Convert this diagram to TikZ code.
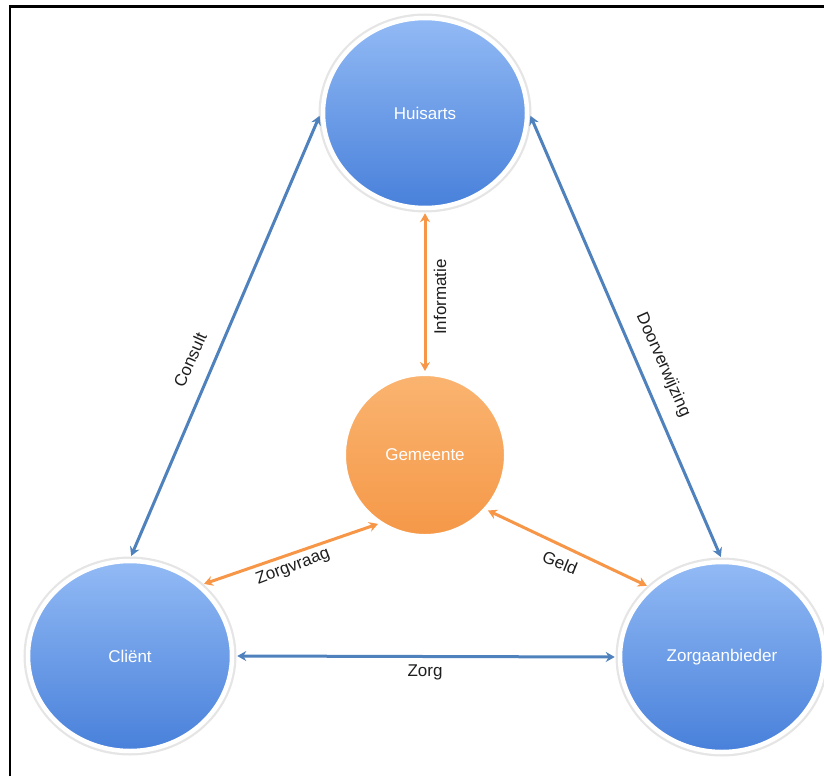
\documentclass[tikz,border=0pt]{standalone}
\usepackage{fontspec}
\setmainfont{Liberation Sans}
\usetikzlibrary{arrows.meta,shapes.geometric}

\definecolor{linkblue}{RGB}{79,129,189}
\definecolor{linkorange}{RGB}{247,150,70}
\definecolor{balltop}{RGB}{146,186,245}
\definecolor{ballbot}{RGB}{72,128,218}
\definecolor{orgtop}{RGB}{250,180,112}
\definecolor{orgbot}{RGB}{245,152,72}
\definecolor{labelink}{RGB}{30,30,30}

\tikzset{
  ball/.style={ellipse, inner sep=0pt, minimum width=204pt, minimum height=190pt,
    top color=balltop, bottom color=ballbot, draw=white, line width=4.5pt,
    preaction={draw=black!10, line width=9pt},
    font=\fontsize{17}{20}\selectfont, text=white},
  hub/.style={ellipse, inner sep=0pt, minimum width=160pt, minimum height=160pt,
    top color=orgtop, bottom color=orgbot, draw=white, line width=2pt,
    font=\fontsize{17}{20}\selectfont, text=white},
  tip/.tip={Stealth[length=9pt,width=10pt,inset=3pt]},
  bluelink/.style={draw=linkblue, line width=3pt, tip-tip,
    shorten <=3pt, shorten >=3pt},
  orangelink/.style={draw=linkorange, line width=3pt, tip-tip,
    shorten <=3pt, shorten >=3pt},
  linklabel/.style={font=\fontsize{17}{20}\selectfont, text=labelink, inner sep=0pt},
}

\begin{document}
\begin{tikzpicture}[x=1pt,y=-1pt]
  \useasboundingbox (0,0) rectangle (824,776);
  % open frame: top and left edges
  \draw[line width=2.5pt] (10,776) -- (10,6.5) -- (824,6.5);

  % the four parties
  \node[ball] (hu) at (425,113) {Huisarts};
  \node[ball] (cl) at (130,656) {Cliënt};
  \node[ball] (za) at (722,657) {Zorgaanbieder};
  \node[hub]  (ge) at (425,455) {Gemeente};

  % relations
  \draw[bluelink] (hu.west) -- (cl.north);
  \draw[bluelink] (hu.east) -- (za.north);
  \draw[bluelink] (cl.east) -- (za.west);
  \draw[orangelink] (hu.south) -- (ge.north);
  \draw[orangelink] (ge.237) -- (cl.45);
  \draw[orangelink] (ge.-42) -- (za.136);

  % relation labels
  \node[linklabel, rotate=66]  (lc) at (190,360) {Consult};
  \node[linklabel, rotate=-66] (ld) at (663,365) {Doorverwijzing};
  \node[linklabel, rotate=90]  (li) at (440,297) {Informatie};
  \node[linklabel, rotate=21]  (lv) at (293,567) {Zorgvraag};
  \node[linklabel, rotate=-22] (lg) at (560,563) {Geld};
  \node[linklabel]             (lz) at (425,672) {Zorg};
\end{tikzpicture}
\end{document}
